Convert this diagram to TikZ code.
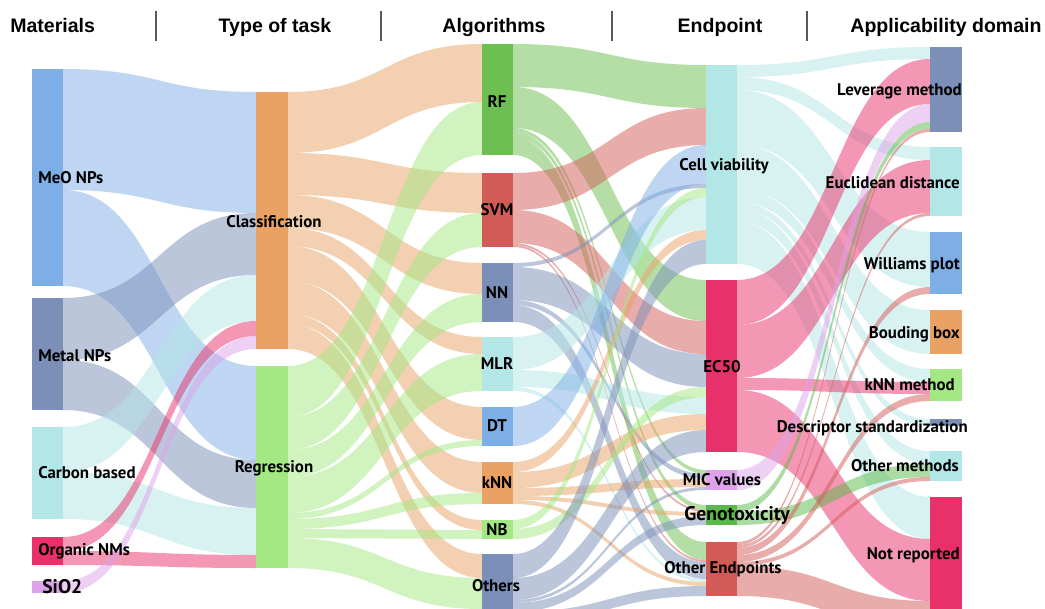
\documentclass[tikz,border=0pt]{standalone}
\usepackage{fontspec}
\setmainfont{PT Sans}
\newfontfamily\headfont{Liberation Sans}
\usepackage{xcolor}

\definecolor{cmeo}{HTML}{7EAEE6}
\definecolor{cmetal}{HTML}{7B8FB8}
\definecolor{ccyan}{HTML}{B3E6E7}
\definecolor{cpink}{HTML}{E8306A}
\definecolor{clav}{HTML}{DDA2E8}
\definecolor{corange}{HTML}{E9A264}
\definecolor{clgreen}{HTML}{A3E882}
\definecolor{cgreen}{HTML}{6CBF50}
\definecolor{cred}{HTML}{D35B57}
\definecolor{cgeno}{HTML}{5CB84A}

\newcommand{\band}[7]{\fill[#7,fill opacity=0.5] (#1,#2) .. controls ({(#1+#4)/2},#2) and ({(#1+#4)/2},#5) .. (#4,#5) -- (#4,#6) .. controls ({(#1+#4)/2},#6) and ({(#1+#4)/2},#3) .. (#1,#3) -- cycle;}

\begin{document}
\begin{tikzpicture}[x=0.025cm,y=-0.025cm,
  lbl/.style={font=\bfseries\fontsize{12}{13}\selectfont,inner sep=0pt},
  biglbl/.style={font=\bfseries\fontsize{14}{15}\selectfont,inner sep=0pt},
  head/.style={font=\headfont\bfseries\fontsize{13.9}{15}\selectfont,inner sep=0pt,anchor=base},
  sep/.style={black!65,line width=1.8pt}]
\useasboundingbox (0,0) rectangle (1045,609);
\clip (0,0) rectangle (1045,609);
\fill[white] (0,0) rectangle (1045,609);

\node[head,anchor=base west] (hmat) at (10,33) {Materials};
\node[head] (htask) at (275,33) {Type of task};
\node[head] (halg) at (494,33) {Algorithms};
\node[head] (hend) at (720,33) {Endpoint};
\node[head] (had) at (946,33) {Applicability domain};
\draw[sep] (156,11) -- (156,41);
\draw[sep] (381,11) -- (381,41);
\draw[sep] (612,11) -- (612,41);
\draw[sep] (807,11) -- (807,41);

% materials -> type of task
\band{63}{69}{190}{256}{92}{213}{cmeo}
\band{63}{190}{286}{256}{366}{460}{cmeo}
\band{63}{298}{360}{256}{213}{275}{cmetal}
\band{63}{360}{410}{256}{460}{508}{cmetal}
\band{63}{427}{472}{256}{275}{321}{ccyan}
\band{63}{472}{519}{256}{508}{555}{ccyan}
\band{63}{537}{551}{256}{321}{336}{cpink}
\band{63}{551}{565}{256}{555}{568}{cpink}
\band{63}{581}{593}{256}{336}{349}{clav}

% type of task -> algorithms
\band{288}{92}{153}{482}{44}{102}{corange}
\band{288}{153}{195}{482}{173}{213}{corange}
\band{288}{195}{228}{482}{263}{294}{corange}
\band{288}{228}{246}{482}{337}{354}{corange}
\band{288}{246}{281}{482}{407}{440}{corange}
\band{288}{281}{314}{482}{462}{493}{corange}
\band{288}{314}{324}{482}{520}{530}{corange}
\band{288}{324}{349}{482}{554}{578}{corange}
\band{288}{366}{417}{482}{102}{155}{clgreen}
\band{288}{417}{450}{482}{213}{247}{clgreen}
\band{288}{450}{477}{482}{294}{322}{clgreen}
\band{288}{477}{513}{482}{354}{391}{clgreen}
\band{288}{513}{519}{482}{440}{446}{clgreen}
\band{288}{519}{529}{482}{493}{504}{clgreen}
\band{288}{529}{538}{482}{530}{539}{clgreen}
\band{288}{538}{568}{482}{578}{609}{clgreen}

% algorithms -> endpoint
\band{513}{44}{87}{706}{65}{108}{cgreen}
\band{513}{87}{128}{706}{280}{321}{cgreen}
\band{513}{128}{132}{706}{470}{474}{cgreen}
\band{513}{132}{137}{706}{505}{510}{cgreen}
\band{513}{137}{155}{706}{542}{560}{cgreen}
\band{513}{173}{210}{706}{108}{145}{cred}
\band{513}{210}{243}{706}{321}{354}{cred}
\band{513}{243}{245}{706}{510}{512}{cred}
\band{513}{245}{247}{706}{560}{562}{cred}
\band{513}{263}{267}{706}{184}{188}{cmetal}
\band{513}{267}{300}{706}{354}{387}{cmetal}
\band{513}{300}{305}{706}{474}{479}{cmetal}
\band{513}{305}{322}{706}{562}{579}{cmetal}
\band{513}{337}{370}{706}{197}{230}{ccyan}
\band{513}{370}{387}{706}{397}{414}{ccyan}
\band{513}{387}{391}{706}{579}{582}{ccyan}
\band{513}{407}{446}{706}{145}{184}{cmeo}
\band{513}{462}{472}{706}{230}{240}{corange}
\band{513}{472}{488}{706}{414}{430}{corange}
\band{513}{488}{496}{706}{479}{487}{corange}
\band{513}{496}{500}{706}{512}{516}{corange}
\band{513}{500}{504}{706}{582}{586}{corange}
\band{513}{520}{529}{706}{188}{197}{clgreen}
\band{513}{529}{539}{706}{387}{397}{clgreen}
\band{513}{554}{578}{706}{240}{264}{cmetal}
\band{513}{578}{600}{706}{430}{452}{cmetal}
\band{513}{600}{603}{706}{487}{490}{cmetal}
\band{513}{603}{612}{706}{516}{525}{cmetal}
\band{513}{612}{622}{706}{586}{596}{cmetal}

% endpoint -> applicability domain
\band{737}{65}{77}{930}{47}{59}{ccyan}
\band{737}{77}{90}{930}{147}{160}{ccyan}
\band{737}{90}{145}{930}{232}{287}{ccyan}
\band{737}{145}{189}{930}{310}{354}{ccyan}
\band{737}{189}{202}{930}{369}{382}{ccyan}
\band{737}{202}{209}{930}{419}{426}{ccyan}
\band{737}{209}{222}{930}{451}{464}{ccyan}
\band{737}{222}{264}{930}{497}{539}{ccyan}
\band{737}{280}{325}{930}{59}{104}{cpink}
\band{737}{325}{378}{930}{160}{213}{cpink}
\band{737}{378}{390}{930}{382}{394}{cpink}
\band{737}{390}{452}{930}{539}{601}{cpink}
\band{737}{470}{490}{930}{104}{122}{clav}
\band{737}{505}{512}{930}{122}{129}{cgeno}
\band{737}{512}{525}{930}{464}{477}{cgeno}
\band{737}{542}{545}{930}{129}{132}{cred}
\band{737}{545}{548}{930}{213}{216}{cred}
\band{737}{548}{555}{930}{287}{294}{cred}
\band{737}{555}{562}{930}{394}{401}{cred}
\band{737}{562}{566}{930}{477}{481}{cred}
\band{737}{566}{596}{930}{601}{631}{cred}

% bars
\fill[cmeo] (32,69) rectangle (63,286);
\fill[cmetal] (32,298) rectangle (63,410);
\fill[ccyan] (32,427) rectangle (63,519);
\fill[cpink] (32,537) rectangle (63,565);
\fill[clav] (32,581) rectangle (63,593);
\fill[corange] (256,92) rectangle (288,349);
\fill[clgreen] (256,366) rectangle (288,568);
\fill[cgreen] (482,44) rectangle (513,155);
\fill[cred] (482,173) rectangle (513,247);
\fill[cmetal] (482,263) rectangle (513,322);
\fill[ccyan] (482,337) rectangle (513,391);
\fill[cmeo] (482,407) rectangle (513,446);
\fill[corange] (482,462) rectangle (513,504);
\fill[clgreen] (482,520) rectangle (513,539);
\fill[cmetal] (482,554) rectangle (513,622);
\fill[ccyan] (706,65) rectangle (737,264);
\fill[cpink] (706,280) rectangle (737,452);
\fill[clav] (706,470) rectangle (737,490);
\fill[cgeno] (706,505) rectangle (737,525);
\fill[cred] (706,542) rectangle (737,596);
\fill[cmetal] (930,47) rectangle (962,132);
\fill[ccyan] (930,147) rectangle (962,216);
\fill[cmeo] (930,232) rectangle (962,294);
\fill[corange] (930,310) rectangle (962,354);
\fill[clgreen] (930,369) rectangle (962,401);
\fill[cmetal] (930,419) rectangle (962,426);
\fill[ccyan] (930,451) rectangle (962,481);
\fill[cpink] (930,497) rectangle (962,640);

% labels
\node[lbl,anchor=west] (meo) at (38,178) {MeO NPs};
\node[lbl,anchor=west] (metal) at (38,356) {Metal NPs};
\node[lbl,anchor=west] (carbon) at (38,473) {Carbon based};
\node[lbl,anchor=west] (organic) at (38,551) {Organic NMs};
\node[biglbl,anchor=west] (sio) at (42,587) {SiO2};
\node[lbl] (class) at (274,222) {Classification};
\node[lbl] (regr) at (274,468) {Regression};
\node[lbl] (rf) at (497,102) {RF};
\node[lbl] (svm) at (497,210) {SVM};
\node[lbl] (nn) at (497,293) {NN};
\node[lbl] (mlr) at (497,364) {MLR};
\node[lbl] (dt) at (497,426) {DT};
\node[lbl] (knn) at (497,483) {kNN};
\node[lbl] (nb) at (497,530) {NB};
\node[lbl] (others) at (496,586) {Others};
\node[lbl] (cellv) at (724,166) {Cell viability};
\node[lbl] (ecfifty) at (722,367) {EC50};
\node[lbl] (mic) at (722,480) {MIC values};
\node[biglbl] (geno) at (737,515) {Genotoxicity};
\node[lbl] (othend) at (723,569) {Other Endpoints};
\node[lbl,anchor=east] (lever) at (962,91) {Leverage method};
\node[lbl,anchor=east] (eucl) at (960,183) {Euclidean distance};
\node[lbl,anchor=east] (will) at (960,265) {Williams plot};
\node[lbl,anchor=east] (bbox) at (960,334) {Bouding box};
\node[lbl,anchor=east] (knnm) at (955,385) {kNN method};
\node[lbl,anchor=east] (descr) at (968,428) {Descriptor standardization};
\node[lbl,anchor=east] (othm) at (959,466) {Other methods};
\node[lbl,anchor=east] (notrep) at (960,555) {Not reported};
\end{tikzpicture}
\end{document}
